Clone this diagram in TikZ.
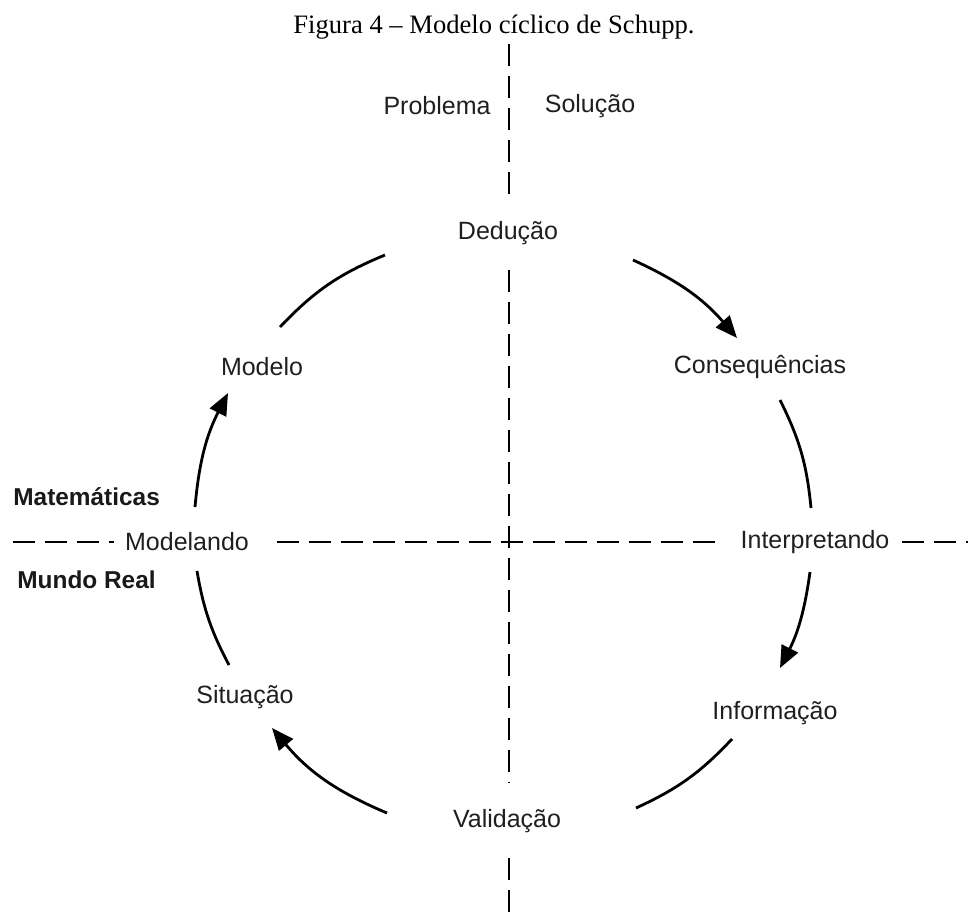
\documentclass[tikz,border=0pt]{standalone}
\usepackage{fontspec}
\newfontfamily\labfont{Liberation Sans}
\newfontfamily\capfont{Liberation Serif}
\usetikzlibrary{arrows.meta}

\begin{document}
\begin{tikzpicture}[x=0.5pt,y=0.5pt,
  lbl/.style={font=\labfont\fontsize{12.5}{15}\selectfont, text=black!88, inner sep=0pt},
  blbl/.style={font=\labfont\bfseries\fontsize{12.2}{15}\selectfont, text=black!90, inner sep=0pt, anchor=west},
  ttl/.style={font=\capfont\fontsize{13.3}{16}\selectfont, inner sep=0pt, anchor=base},
  axis/.style={line width=1.4pt, dash pattern=on 11pt off 5pt},
  cyc/.style={line width=1.4pt},
  cyca/.style={cyc, -{Triangle[length=11pt,width=9pt]}}]
\useasboundingbox (0,0) rectangle (968,-912);

% caption
\node[ttl] (title) at (494,-33) {Figura 4 – Modelo cíclico de Schupp.};

% quadrant labels
\node[lbl] (prob) at (437,-106) {Problema};
\node[lbl] (sol)  at (590,-106) {Solução};
\node[blbl] (mat) at (13,-497) {Matemáticas};
\node[blbl] (mreal) at (17,-580) {Mundo Real};

% stages of the cycle
\node[lbl] (ded)  at (508,-233) {Dedução};
\node[lbl] (cons) at (760,-367) {Consequências};
\node[lbl] (interp) at (815,-542) {Interpretando};
\node[lbl] (info) at (775,-713) {Informação};
\node[lbl] (valid) at (507,-821) {Validação};
\node[lbl] (sit)  at (245,-697) {Situação};
\node[lbl] (modl) at (187,-542) {Modelando};
\node[lbl] (mod)  at (262,-367) {Modelo};

% axes
\coordinate (v1) at (509,-44);  \coordinate (v2) at (509,-195);
\coordinate (v3) at (509,-270); \coordinate (v4) at (509,-783);
\coordinate (v5) at (509,-858); \coordinate (v6) at (509,-912);
\coordinate (h1) at (13,-542);  \coordinate (h2) at (114,-542);
\coordinate (h3) at (277,-542); \coordinate (h4) at (717,-542);
\coordinate (h5) at (902,-542); \coordinate (h6) at (968,-542);
\draw[axis] (v1) -- (v2);
\draw[axis] (v3) -- (v4);
\draw[axis] (v5) -- (v6);
\draw[axis] (h1) -- (h2);
\draw[axis] (h3) -- (h4);
\draw[axis] (h5) -- (h6);

% arc end points
\coordinate (a1) at (280,-327); \coordinate (b1) at (385,-255);
\coordinate (a2) at (633,-260); \coordinate (b2) at (737,-338);
\coordinate (a3) at (780,-400); \coordinate (b3) at (811,-508);
\coordinate (a4) at (810,-572); \coordinate (b4) at (780,-668);
\coordinate (a5) at (732,-739); \coordinate (b5) at (636,-808);
\coordinate (a6) at (387,-813); \coordinate (b6) at (272,-728);
\coordinate (a7) at (229,-665); \coordinate (b7) at (197,-571);
\coordinate (a8) at (195,-507); \coordinate (b8) at (228,-393);

% the cycle
\draw[cyc]  (a1) to[bend left=12]   (b1);
\draw[cyca] (a2) to[bend left=12.4] (b2);
\draw[cyc]  (a3) to[bend left=10.5] (b3);
\draw[cyca] (a4) to[bend left=9.5]  (b4);
\draw[cyc]  (a5) to[bend left=11]   (b5);
\draw[cyca] (a6) to[bend left=13.6] (b6);
\draw[cyc]  (a7) to[bend left=9]    (b7);
\draw[cyca] (a8) to[bend left=11]   (b8);
\end{tikzpicture}
\end{document}
